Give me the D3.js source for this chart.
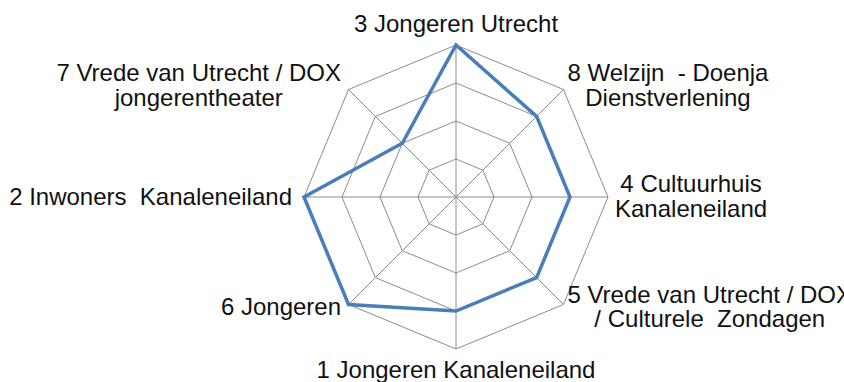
<!DOCTYPE html>
<html>
<head>
<meta charset="utf-8">
<script src="https://cdn.jsdelivr.net/npm/d3@7/dist/d3.min.js"></script>
<style>
  html, body { margin: 0; padding: 0; background: #fff; }
  svg { display: block; }
  text { font-family: "Liberation Sans", Arial, sans-serif; font-size: 24px; fill: #111; white-space: pre; }
</style>
</head>
<body>
<svg id="chart" width="844" height="382"></svg>
<script>
// Axis names, clockwise from the top; "\n" marks a line break in the label
const categories = [
  "3 Jongeren Utrecht",
  "8 Welzijn  - Doenja\nDienstverlening",
  "4 Cultuurhuis\nKanaleneiland",
  "5 Vrede van Utrecht / DOX\n/ Culturele  Zondagen",
  "1 Jongeren Kanaleneiland",
  "6 Jongeren",
  "2 Inwoners  Kanaleneiland",
  "7 Vrede van Utrecht / DOX\njongerentheater"
];
const values = [4, 3, 3, 3, 3, 4, 4, 2];
const gridLevels = [1, 2, 3, 4];

const svg = d3.select("#chart");
const cx = 456, cy = 197, R = 152;
const n = categories.length;

const r = d3.scaleLinear().domain([0, 4]).range([0, R]);
const angle = d3.scaleLinear().domain([0, n]).range([0, 2 * Math.PI]);

const pt = (i, v) => {
  const a = angle(i);
  return [cx + r(v) * Math.sin(a), cy - r(v) * Math.cos(a)];
};

const g = svg.append("g");

// Octagonal grid rings
const ringLine = d3.line();
g.selectAll("path.ring")
  .data(gridLevels)
  .join("path")
  .attr("class", "ring")
  .attr("d", lv => ringLine(d3.range(n).map(i => pt(i, lv))) + "Z")
  .attr("fill", "none")
  .attr("stroke", "#8c8c8c")
  .attr("stroke-width", 1);

// Spokes
g.selectAll("line.spoke")
  .data(d3.range(n))
  .join("line")
  .attr("class", "spoke")
  .attr("x1", cx).attr("y1", cy)
  .attr("x2", i => pt(i, 4)[0])
  .attr("y2", i => pt(i, 4)[1])
  .attr("stroke", "#8c8c8c")
  .attr("stroke-width", 1);

// Series outline
const radial = d3.lineRadial()
  .angle((d, i) => angle(i))
  .radius(d => r(d))
  .curve(d3.curveLinearClosed);

g.append("path")
  .datum(values)
  .attr("transform", `translate(${cx},${cy})`)
  .attr("d", radial)
  .attr("fill", "none")
  .attr("stroke", "#4a7ebb")
  .attr("stroke-width", 3.5)
  .attr("stroke-linejoin", "miter");

// Axis labels, placed just outside each outer vertex
const lineH = 24.5;
categories.forEach((name, i) => {
  const lines = name.split("\n");
  const [vx, vy] = pt(i, 4);
  const a = angle(i);
  const s = Math.sin(a), c = Math.cos(a);
  const t = svg.append("text").attr("text-anchor", "middle");
  const spans = lines.map((ln, k) => t.append("tspan").text(ln).attr("dy", k === 0 ? 0 : lineH));
  const w = d3.max(spans, sp => sp.node().getComputedTextLength());
  let x, yBase;
  if (Math.abs(s) < 0.01) {
    x = vx;
    yBase = c > 0 ? vy - 13 : vy + 29;
  } else {
    const horiz = Math.abs(c) < 0.01;
    const gap = s > 0 ? (horiz ? 7 : 4) : (horiz ? 12 : 7.5);
    x = s > 0 ? vx + gap + w / 2 : vx - gap - w / 2;
    // centre the block vertically on the vertex
    yBase = vy + 7.5 - (lines.length - 1) * lineH / 2 + (c > 0.1 ? -3.5 : c < -0.1 ? 3 : 0);
  }
  t.attr("x", x).attr("y", yBase);
  spans.forEach(sp => sp.attr("x", x));
});
</script>
</body>
</html>
